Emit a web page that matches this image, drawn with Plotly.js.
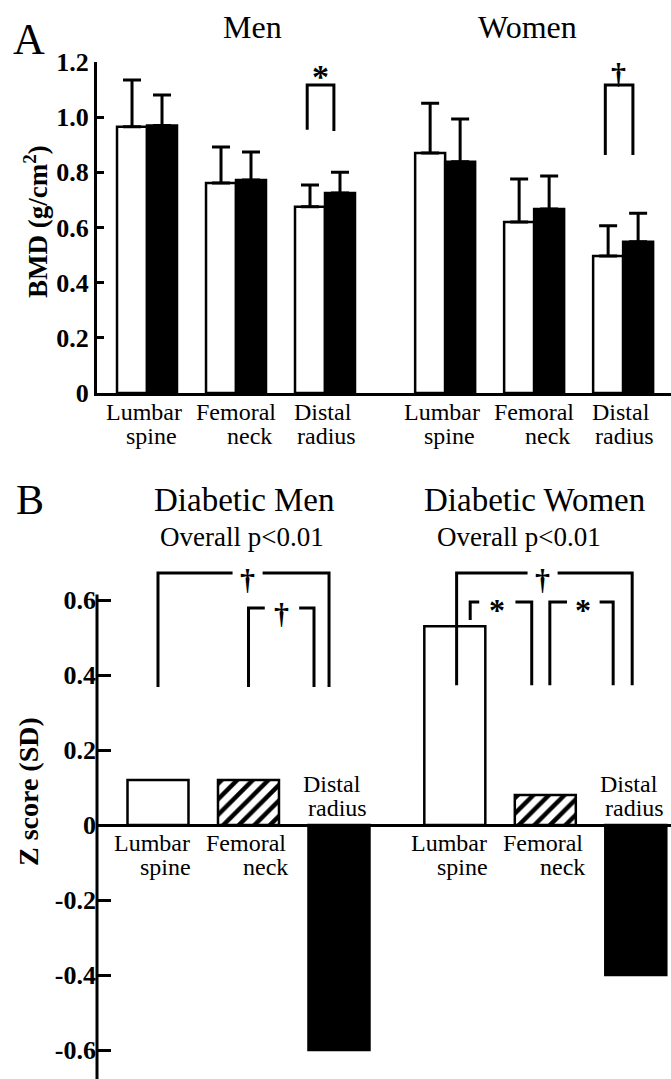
<!DOCTYPE html>
<html><head><meta charset="utf-8">
<script src="https://cdn.plot.ly/plotly-3.0.1.min.js"></script>
<style>html,body{margin:0;padding:0;background:#fff}#chart{width:671px;height:1079px}</style>
</head><body><div id="chart"></div>
<script>
const W = 671, H = 1079;
const FONT = '"Liberation Serif", "Times New Roman", serif';

// ---------- data ----------
const sites = ['Lumbar spine', 'Femoral neck', 'Distal radius'];
const groups = ['Men', 'Women'];

// Panel A: BMD (g/cm2); white = controls, black = diabetic
const bmdMenControl      = [0.965, 0.761, 0.675];
const bmdMenControlSD    = [0.170, 0.131, 0.079];
const bmdMenDiabetic     = [0.970, 0.772, 0.725];
const bmdMenDiabeticSD   = [0.110, 0.102, 0.075];
const bmdWomenControl    = [0.870, 0.620, 0.497];
const bmdWomenControlSD  = [0.180, 0.156, 0.109];
const bmdWomenDiabetic   = [0.838, 0.667, 0.548];
const bmdWomenDiabeticSD = [0.155, 0.120, 0.104];

// Panel B: Z score (SD) of diabetic patients
const zMen   = [0.12, 0.12, -0.60];
const zWomen = [0.53, 0.08, -0.40];

const yTicksA = [0, 0.2, 0.4, 0.6, 0.8, 1.0, 1.2];
const yTickTextA = ['0', '0.2', '0.4', '0.6', '0.8', '1.0', '1.2'];
const yTicksB = [-0.6, -0.4, -0.2, 0, 0.2, 0.4, 0.6];
const yTickTextB = ['-0.6', '-0.4', '-0.2', '0', '0.2', '0.4', '0.6'];

const titleA = ['Men', 'Women'];
const titleB = ['Diabetic Men', 'Diabetic Women'];
const subtitleB = ['Overall p<0.01', 'Overall p<0.01'];

// ---------- layout helpers (styling only) ----------
const gapA = 0.35, gapB = 0.28;
const posA = (g, s) => g * (sites.length + gapA) + s;
const posB = (g, s) => g * (sites.length + gapB) + s;
const px = (x) => x / W;            // paper x from pixel
const py = (y) => 1 - y / H;        // paper y from pixel
const domA = [py(393), py(62)];
const domB = [0, py(562.5)];
const rangeB = [-0.677, 0.70];
const spineTopB = 0.615;

const xsA = [];
groups.forEach((g, gi) => sites.forEach((s, si) => xsA.push(posA(gi, si))));
const xsB = (si) => groups.map((g, gi) => posB(gi, si));

const barW_A = 0.337, barW_B = 0.674;
const errStyle = {type: 'data', symmetric: false, color: '#000', thickness: 3, width: 9};
const zeros = [0, 0, 0, 0, 0, 0];

const traces = [
  {type: 'bar', name: 'Control', xaxis: 'x', yaxis: 'y', x: xsA,
   y: bmdMenControl.concat(bmdWomenControl), width: barW_A, offset: -barW_A,
   marker: {color: '#fff', line: {color: '#000', width: 2.5}},
   error_y: Object.assign({array: bmdMenControlSD.concat(bmdWomenControlSD), arrayminus: zeros}, errStyle),
   hoverinfo: 'skip'},
  {type: 'bar', name: 'Diabetic', xaxis: 'x', yaxis: 'y', x: xsA,
   y: bmdMenDiabetic.concat(bmdWomenDiabetic), width: barW_A, offset: 0,
   marker: {color: '#000', line: {color: '#000', width: 2.5}},
   error_y: Object.assign({array: bmdMenDiabeticSD.concat(bmdWomenDiabeticSD), arrayminus: zeros}, errStyle),
   hoverinfo: 'skip'}
];

const siteFill = ['#fff', '#fff', '#000'];
const sitePattern = ['', '/', ''];
sites.forEach((s, si) => {
  traces.push({type: 'bar', name: s, xaxis: 'x2', yaxis: 'y2', x: xsB(si),
    y: [zMen[si], zWomen[si]], width: barW_B,
    marker: {color: siteFill[si], line: {color: '#000', width: 2.5},
      pattern: {shape: sitePattern[si], fgcolor: '#000', bgcolor: '#fff', size: 11, solidity: 0.4, fillmode: 'replace'}},
    hoverinfo: 'skip'});
});

// ---------- annotations ----------
const ann = [];
const txt = (o) => Object.assign({showarrow: false, xanchor: 'center', yanchor: 'middle',
  font: {family: FONT, size: 24, color: '#000'}}, o);

// panel letters and titles
ann.push(txt({xref: 'paper', yref: 'paper', x: px(29), y: py(40), text: 'A', font: {family: FONT, size: 44, color: '#000'}}));
ann.push(txt({xref: 'paper', yref: 'paper', x: px(30), y: py(500), text: 'B', font: {family: FONT, size: 42, color: '#000'}}));
const titleAX = [252, 527];
titleA.forEach((t, i) => ann.push(txt({xref: 'paper', yref: 'paper', x: px(titleAX[i]), y: py(27), text: t, font: {family: FONT, size: 32, color: '#000'}})));
const titleBX = [244, 534], subBX = [242, 519];
titleB.forEach((t, i) => {
  ann.push(txt({xref: 'paper', yref: 'paper', x: px(titleBX[i]), y: py(500), text: t, font: {family: FONT, size: 33, color: '#000'}}));
  ann.push(txt({xref: 'paper', yref: 'paper', x: px(subBX[i]), y: py(537), text: subtitleB[i], font: {family: FONT, size: 27, color: '#000'}}));
});
// y-axis titles
ann.push(txt({xref: 'paper', yref: 'paper', x: px(36), y: py(222), textangle: -90, text: 'BMD (g/cm<sup>2</sup>)', font: {family: FONT, size: 27, color: '#000', weight: 'bold'}}));
ann.push(txt({xref: 'paper', yref: 'paper', x: px(28), y: py(792), textangle: -90, text: 'Z score (SD)', font: {family: FONT, size: 28, color: '#000', weight: 'bold'}}));

// category labels, panel A (below axis)
const lineDxA = [[-3, 4], [0, 13], [-2, 1]];
const lineDyA = [-19, -43];
groups.forEach((g, gi) => sites.forEach((s, si) => {
  s.split(' ').forEach((w, li) => ann.push(txt({xref: 'x', yref: 'y', x: posA(gi, si), y: 0,
    xshift: lineDxA[si][li], yshift: lineDyA[li], text: w})));
}));
// category labels, panel B (below zero for positive bars, above for negative)
const lineDxB = [[-6, 8], [-2, 17], [-7, -1]];
const zAll = [zMen, zWomen];
groups.forEach((g, gi) => sites.forEach((s, si) => {
  const v = zAll[gi][si];
  const dy = v >= 0 ? [-18, -42] : [41, 17];
  s.split(' ').forEach((w, li) => ann.push(txt({xref: 'x2', yref: 'y2', x: posB(gi, si), y: 0,
    xshift: lineDxB[si][li], yshift: dy[li], text: w, font: {family: FONT, size: 24, color: '#000'}})));
}));

// ---------- significance brackets ----------
const shapes = [];
const lineStyle = {color: '#000', width: 3};
function bracket(xr, yr, xl, xrt, yTop, yBotL, yBotR, gapC, gapHalf) {
  let p = `M${xl},${yBotL}L${xl},${yTop}`;
  if (gapC != null) p += `L${gapC - gapHalf},${yTop}M${gapC + gapHalf},${yTop}`;
  p += `L${xrt},${yTop}L${xrt},${yBotR}`;
  shapes.push({type: 'path', xref: xr, yref: yr, path: p, line: lineStyle});
}
function mark(xr, yr, x, y, sym, size, yshift) {
  ann.push(txt({xref: xr, yref: yr, x: x, y: y, text: sym, yshift: yshift || 0, font: {family: FONT, size: size, color: '#000', weight: 'bold'}}));
}
// Panel A: distal radius, men (*) and women (dagger)
bracket('x', 'y', posA(0, 2) - 0.2, posA(0, 2) + 0.1, 1.117, 0.954, 0.950);
mark('x', 'y', posA(0, 2) - 0.05, 1.155, '*', 34, -2);
bracket('x', 'y', posA(1, 2) - 0.2, posA(1, 2) + 0.11, 1.117, 0.863, 0.863);
mark('x', 'y', posA(1, 2) - 0.05, 1.16, '†', 30, 0);

// Panel B, men
bracket('x2', 'y2', posB(0, 0), posB(0, 2) - 0.11, 0.672, 0.368, 0.368, posB(0, 1) - 0.01, 0.166);
mark('x2', 'y2', posB(0, 1) - 0.01, 0.655, '†', 30, 0);
bracket('x2', 'y2', posB(0, 1), posB(0, 2) - 0.276, 0.579, 0.368, 0.368, posB(0, 1) + 0.37, 0.19);
mark('x2', 'y2', posB(0, 1) + 0.37, 0.565, '†', 30, 0);
// Panel B, women
bracket('x2', 'y2', posB(1, 0) + 0.02, posB(1, 2) - 0.04, 0.672, 0.373, 0.373, posB(1, 1) - 0.03, 0.166);
mark('x2', 'y2', posB(1, 1) - 0.03, 0.655, '†', 30, 0);
bracket('x2', 'y2', posB(1, 0) + 0.17, posB(1, 1) - 0.15, 0.595, 0.547, 0.373, posB(1, 0) + 0.47, 0.2);
mark('x2', 'y2', posB(1, 0) + 0.47, 0.585, '*', 32, -4);
bracket('x2', 'y2', posB(1, 1) + 0.05, posB(1, 2) - 0.25, 0.595, 0.373, 0.373, posB(1, 1) + 0.42, 0.18);
mark('x2', 'y2', posB(1, 1) + 0.42, 0.585, '*', 32, -4);

// panel B vertical axis spine (stops just above 0.6)
shapes.push({type: 'line', xref: 'x2 domain', yref: 'y2', x0: 0, x1: 0, y0: rangeB[0], y1: spineTopB, line: lineStyle});

const tickFont = {family: FONT, size: 26, color: '#000', weight: 'bold'};
const layout = {
  width: W, height: H,
  margin: {l: 0, r: 0, t: 0, b: 0},
  paper_bgcolor: '#fff', plot_bgcolor: 'rgba(0,0,0,0)',
  showlegend: false, barmode: 'overlay',
  font: {family: FONT, color: '#000'},
  xaxis: {domain: [px(97), 1], anchor: 'y', range: [-0.562, 5.888], showline: true, linewidth: 3, linecolor: '#000',
    ticks: '', showticklabels: false, showgrid: false, zeroline: false},
  yaxis: {domain: domA, anchor: 'x', range: [0, 1.2], tickmode: 'array', tickvals: yTicksA, ticktext: yTickTextA,
    ticks: 'inside', ticklen: 7, tickwidth: 3, tickcolor: '#000', showline: true, linewidth: 3, linecolor: '#000',
    showgrid: false, zeroline: false, tickfont: tickFont},
  xaxis2: {domain: [px(97), 1], anchor: 'y2', range: [-0.674, 5.669], showline: false, ticks: '',
    showticklabels: false, showgrid: false, zeroline: false},
  yaxis2: {domain: domB, anchor: 'x2', range: rangeB, tickmode: 'array', tickvals: yTicksB, ticktext: yTickTextB,
    ticks: 'inside', ticklen: 14, tickwidth: 3, tickcolor: '#000', showline: false,
    showgrid: false, zeroline: true, zerolinecolor: '#000', zerolinewidth: 3, tickfont: tickFont},
  shapes: shapes,
  annotations: ann
};

Plotly.newPlot('chart', traces, layout, {staticPlot: true, displayModeBar: false});
</script>
</body></html>
